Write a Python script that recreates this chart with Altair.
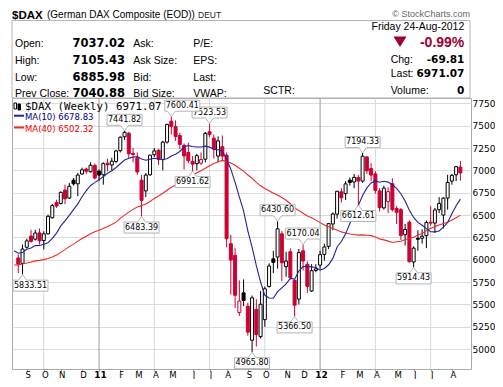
import altair as alt
import pandas as pd

# ---------------- data (weekly candles, $DAX, Aug 2010 - Aug 2012) ----------------
opens = [6020, 5960, 6140, 6265, 6230, 6300, 6215, 6290, 6470, 6640,
         6630, 6780, 6690, 6890, 6850, 6960, 7015, 6985, 7056, 6990,
         6950, 7080, 7060, 7100, 7220, 7375, 7415, 7190, 7140, 6890,
         6770, 6950, 7175, 7225, 7120, 7316, 7550, 7490, 7390, 7280,
         7200, 7100, 7075, 7080, 7125, 7432, 7360, 7160, 7265, 7170,
         6180, 6050, 5410, 5630, 5480, 5100, 5445, 5140, 5330, 5700,
         6010, 6030, 6290, 5923, 6090, 5770, 5560, 6100, 5950, 5650,
         5880, 5940, 6060, 6150, 6400, 6510, 6760, 6740, 6890, 6870,
         6920, 6880, 7150, 7020, 6960, 6770, 6580, 6650, 6850, 6575,
         6560, 6280, 6420, 5975, 6240, 6240, 6270, 6420, 6410, 6560,
         6500, 6690, 6880, 6950, 7037.02]
highs = [6060, 6170, 6235, 6335, 6335, 6350, 6320, 6505, 6625, 6672,
         6765, 6840, 6858, 6915, 6970, 7030, 7030, 7090, 7075, 7010,
         7090, 7130, 7140, 7230, 7380, 7441.82, 7430, 7250, 7200, 6950,
         6970, 7175, 7250, 7240, 7330, 7520, 7600.41, 7560, 7420, 7300,
         7310, 7160, 7185, 7200, 7430, 7523.53, 7400, 7380, 7390, 7200,
         6280, 6130, 5770, 5780, 5520, 5600, 5560, 5650, 5700, 5960,
         6100, 6430.60, 6320, 6090, 6128, 5780, 6120, 6170.04, 5980, 5950,
         5950, 6100, 6180, 6410, 6530, 6770, 6800, 6880, 6920, 6960,
         6950, 7194.33, 7160, 7080, 6990, 6800, 6830, 6810, 6910, 6600,
         6580, 6400, 6440, 6150, 6330, 6340, 6440, 6600, 6580, 6700,
         6700, 6950, 6960, 7050, 7105.43]
lows = [5850, 5833.51, 6125, 6190, 6215, 6170, 6115, 6280, 6460, 6580,
        6620, 6620, 6680, 6830, 6710, 6950, 6960, 6975, 6900, 6880,
        6840, 6990, 7000, 7080, 7200, 7340, 7130, 7090, 6950, 6483.39,
        6700, 6940, 7150, 7060, 7000, 7300, 7400, 7330, 7240, 7010,
        7080, 6991.62, 7000, 7060, 7090, 7370, 7130, 7090, 7100, 6140,
        5610, 5460, 5370, 5480, 5150, 4965.80, 5030, 5120, 5250, 5690,
        5850, 5900, 5760, 5810, 5780, 5366.50, 5500, 5880, 5630, 5640,
        5860, 5900, 5990, 6120, 6330, 6460, 6640, 6668, 6830, 6800,
        6612.61, 6860, 6960, 6880, 6740, 6540, 6560, 6520, 6540, 6400,
        6220, 6160, 5970, 5914.43, 6100, 6180, 6130, 6380, 6300, 6520,
        6350, 6560, 6840, 6880, 6885.98]
closes = [5951, 6120, 6211, 6206, 6299, 6211, 6290, 6486, 6605, 6601,
          6754, 6682, 6822, 6849, 6947, 7006, 6990, 7057, 6914, 6947,
          7075, 7062, 7102, 7217, 7371, 7426, 7185, 7178, 6982, 6664,
          6947, 7170, 7217, 7123, 7316, 7514, 7492, 7379, 7290, 7161,
          7108, 7069, 7164, 7121, 7414, 7400, 7240, 7330, 7159, 6236,
          5997, 5603, 5538, 5545, 5190, 5574, 5164, 5502, 5675, 5930,
          5970, 6346, 5966, 5985, 5800, 5492, 6080, 5986, 5701, 5878,
          5898, 6057, 6143, 6404, 6511, 6766, 6692, 6849, 6864, 6921,
          6880, 7158, 6996, 6947, 6775, 6583, 6801, 6762, 6561, 6530,
          6271, 6339, 5978, 6130, 6229, 6263, 6416, 6410, 6557, 6630,
          6689, 6865, 6944, 7040.88, 6971.07]
# weekly closes before the first visible week (feed the moving averages)
pre_closes = [5685, 5817, 5709, 5831, 5957, 5957, 6037, 5875, 5695, 5608,
              5434, 5500, 5722, 5598, 5877, 5945, 5982, 6021, 6235, 6250,
              6180, 6259, 6136, 5716, 5950, 5830, 5946, 5939, 6048, 6216,
              6050, 5835, 6066, 6040, 6194, 6148, 6335, 6110, 6005]

month_idx = [2, 6, 10, 15, 19, 24, 28, 32, 36, 41, 45, 49, 54, 58, 63, 67, 71,
             76, 80, 84, 89, 93, 97, 102]
month_lbl = ["S", "O", "N", "D", "11", "F", "M", "A", "M", "J", "J", "A", "S",
             "O", "N", "D", "12", "F", "M", "A", "M", "J", "J", "A"]
year_idx = [19, 71]
quarter_idx = [6, 19, 32, 45, 58, 71, 84, 97]
y_ticks = [5000, 5250, 5500, 5750, 6000, 6250, 6500, 6750, 7000, 7250, 7500, 7750]

ann_high_idx = [25, 36, 45, 61, 67, 81]
ann_low_idx = [1, 29, 41, 55, 65, 80, 93]

legend_texts = ["$DAX (Weekly) 6971.07", "MA(10) 6678.83", "MA(40) 6502.32"]
hdr_title = "$DAX"
hdr_name = "(German DAX Composite (EOD))"
hdr_exch = "DEUT"
hdr_credit = "\u00a9 StockCharts.com"
hdr_left_labels = ["Open:", "High:", "Low:", "Prev Close:"]
hdr_left_values = ["7037.02", "7105.43", "6885.98", "7040.88"]
hdr_col2 = ["Ask:", "Ask Size:", "Bid:", "Bid Size:"]
hdr_col3 = ["P/E:", "EPS:", "Last:", "VWAP:"]
hdr_sctr = "SCTR:"
hdr_date = "Friday  24-Aug-2012"
hdr_pct = "-0.99%"
hdr_right_labels = ["Chg:", "Last:", "Volume:"]
hdr_right_values = ["-69.81", "6971.07", "0"]

# ---------------- styles / layout ----------------
RED = "#cc0033"
CRIMSON = "#990033"
BLUE = "#22229a"
MA40C = "#f02828"
SANS = "Liberation Sans"
VER = "DejaVu Sans"
low_label_shift = {1: 8}     # px nudge of a label box that would leave the page
high_label_shift = {36: 11}  # px nudge of a label box that would sit under the legend

# ---------------- tables ----------------
rows = []
prev = pre_closes[-1]
for i, (o, h, l, c) in enumerate(zip(opens, highs, lows, closes)):
    col = RED if c < prev else "black"
    rows.append(dict(i=i, open=o, high=h, low=l, close=c, col=col,
                     fill=("white" if c > o else col)))
    prev = c
df = pd.DataFrame(rows)

ma_df = pd.DataFrame({"i": list(range(-len(pre_closes), len(closes))),
                      "close": pre_closes + closes})

grid_df = pd.DataFrame({"i": quarter_idx,
                        "c": ["#9a9a9a" if q in year_idx else "#d8d8d8" for q in quarter_idx]})

xs = alt.Scale(domain=[-0.3, 105.32], nice=False, zero=False)
ys = alt.Scale(domain=[4778.0, 7809.3], nice=False, zero=False)

lbl_expr = ("[" + ",".join(f"'{s}'" for s in month_lbl) + "][indexof(["
            + ",".join(str(k) for k in month_idx) + "], datum.value)]")
year_test = " || ".join(f"datum.value == {k}" for k in year_idx)

x_axis = alt.Axis(values=month_idx, labelExpr=lbl_expr, title=None, grid=False,
                  domain=False, ticks=True, tickSize=2, tickColor="#999999",
                  labelFont=VER, labelColor="black", labelPadding=-1, labelOffset=1,
                  labelFontSize={"condition": {"test": year_test, "value": 9}, "value": 8.5},
                  labelFontWeight={"condition": {"test": year_test, "value": "bold"}, "value": "normal"},
                  labelOverlap=False, labelFlush=False, labelBound=False)
y_axis = alt.Axis(orient="right", values=y_ticks, format="d", title=None, domain=False,
                  ticks=False, labelPadding=1, labelFont=VER, labelFontSize=9,
                  labelColor="black", gridColor="#dcdcdc", gridWidth=1,
                  labelOverlap=False, labelFlush=False)


def X(field):
    return alt.X(field, type="quantitative", scale=xs, axis=x_axis)


def Y(field):
    return alt.Y(field, type="quantitative", scale=ys, axis=y_axis)


layers = []
# vertical quarter grid lines
layers.append(alt.Chart(grid_df).mark_rule(strokeWidth=1).encode(
    x=X("i"), color=alt.Color("c:N", scale=None)))
# wicks
layers.append(alt.Chart(df).mark_rule(strokeWidth=1).encode(
    x=X("i"), y=Y("low"), y2="high", color=alt.Color("col:N", scale=None)))
# bodies
layers.append(alt.Chart(df).mark_bar(size=3, strokeWidth=1).encode(
    x=X("i"), y=Y("open"), y2="close",
    fill=alt.Fill("fill:N", scale=None), stroke=alt.Stroke("col:N", scale=None)))
# moving averages
for win, colr in ((40, MA40C), (10, BLUE)):
    layers.append(alt.Chart(ma_df).transform_window(
        ma="mean(close)", frame=[-(win - 1), 0], sort=[{"field": "i"}]
    ).transform_filter("datum.i >= -1").mark_line(
        color=colr, strokeWidth=1.1, clip=True).encode(x=X("i"), y=Y("ma:Q")))


# annotation boxes with pointer
def box_path(sg, s):
    a, b = 5.5 * sg, 16.5 * sg
    return (f"M0,0L-4,{a}L{s - 17.5},{a}L{s - 17.5},{b}L{s + 17.5},{b}"
            f"L{s + 17.5},{a}L4,{a}Z")


groups = []
for k in ann_high_idx:
    groups.append((k, highs[k], -1, high_label_shift.get(k, 0)))
for k in ann_low_idx:
    groups.append((k, lows[k], 1, low_label_shift.get(k, 0)))
for sg, s in sorted({(g[2], g[3]) for g in groups}):
    sel = [g for g in groups if g[2] == sg and g[3] == s]
    d = pd.DataFrame({"i": [g[0] for g in sel], "v": [g[1] for g in sel],
                      "label": [f"{g[1]:.2f}" for g in sel]})
    layers.append(alt.Chart(d).mark_point(shape=box_path(sg, s), size=4, filled=True,
                                          fill="white", stroke="#b4b4b4", strokeWidth=1,
                                          opacity=1).encode(x=X("i"), y=Y("v:Q")))
    layers.append(alt.Chart(d).mark_text(font=VER, fontSize=8, dy=11 * sg, dx=s,
                                         baseline="middle", color="black").encode(
        x=X("i"), y=Y("v:Q"), text="label:N"))

dummy = pd.DataFrame({"d": [0]})


def txt(s, x, y, size=10.5, font=SANS, weight="normal", color="black", align="left"):
    return alt.Chart(dummy).mark_text(text=s, align=align, baseline="alphabetic",
                                      fontSize=size, font=font, fontWeight=weight,
                                      color=color).encode(x=alt.value(x), y=alt.value(y))


def rect(x1, x2, y1, y2, fill, stroke=None):
    kw = dict(fill=fill)
    if stroke:
        kw.update(stroke=stroke, strokeWidth=1)
    return alt.Chart(dummy).mark_rect(**kw).encode(
        x=alt.value(x1), x2=alt.value(x2), y=alt.value(y1), y2=alt.value(y2))


def hline(x1, x2, y, color, w):
    return alt.Chart(dummy).mark_rule(color=color, strokeWidth=w).encode(
        x=alt.value(x1), x2=alt.value(x2), y=alt.value(y))


# legend
layers.append(rect(2, 4.5, 5, 11, "white", "black"))
layers.append(rect(6, 8.5, 6, 12, "black", "black"))
layers.append(txt(legend_texts[0], 13, 11.5, 10.8, "DejaVu Sans Mono"))
layers.append(hline(2, 12, 17.7, BLUE, 2))
layers.append(txt(legend_texts[1], 13, 22, 8.5, VER, color="#000080"))
layers.append(hline(2, 12, 29.5, MA40C, 2))
layers.append(txt(legend_texts[2], 13, 33.5, 8.5, VER, color="#ee0000"))

# header
layers.append(rect(0, 458, -77.5, 0, "transparent", "#b4b4b4"))
layers.append(txt(hdr_title, 0, -79.5, 11.5, SANS, "bold"))
layers.append(txt(hdr_name, 35, -80, 10, SANS))
layers.append(txt(hdr_exch, 186, -80, 8.5, SANS, color="#222222"))
layers.append(txt(hdr_credit, 458, -81, 9, SANS, color="#666666", align="right"))
row_y = [-51.5, -34.5, -17.5, -1.5]
for k in range(4):
    layers.append(txt(hdr_left_labels[k], 3, row_y[k]))
    layers.append(txt(hdr_left_values[k], 113, row_y[k], 11.5, VER, "bold", align="right"))
    layers.append(txt(hdr_col2[k], 121.3, row_y[k]))
    layers.append(txt(hdr_col3[k], 181.3, row_y[k]))
layers.append(txt(hdr_sctr, 251.3, -3.7))
layers.append(txt(hdr_date, 452.3, -68, 10.5, align="right"))
layers.append(alt.Chart(dummy).mark_point(shape="M-6.5,-5.3L6.5,-5.3L0,5.3Z", size=4,
                                          filled=True, fill=CRIMSON, opacity=1,
                                          strokeWidth=0).encode(
    x=alt.value(388), y=alt.value(-56.2)))
layers.append(txt(hdr_pct, 452.3, -51.3, 14, SANS, "bold", CRIMSON, "right"))
right_y = [-35.3, -21.3, -3.7]
for k in range(3):
    layers.append(txt(hdr_right_labels[k], 378.7, right_y[k]))
    layers.append(txt(hdr_right_values[k], 452.3, right_y[k], 10.5, VER, "bold", align="right"))

chart = alt.layer(*layers).properties(
    width=459, height=271,
    padding={"left": 4, "top": 90, "right": 24, "bottom": 10},
    autosize=alt.AutoSizeParams(type="none"),
).configure_view(stroke="#aaaaaa", strokeWidth=1)

chart.save("out.html", embed_options={"renderer": "svg", "actions": False})
